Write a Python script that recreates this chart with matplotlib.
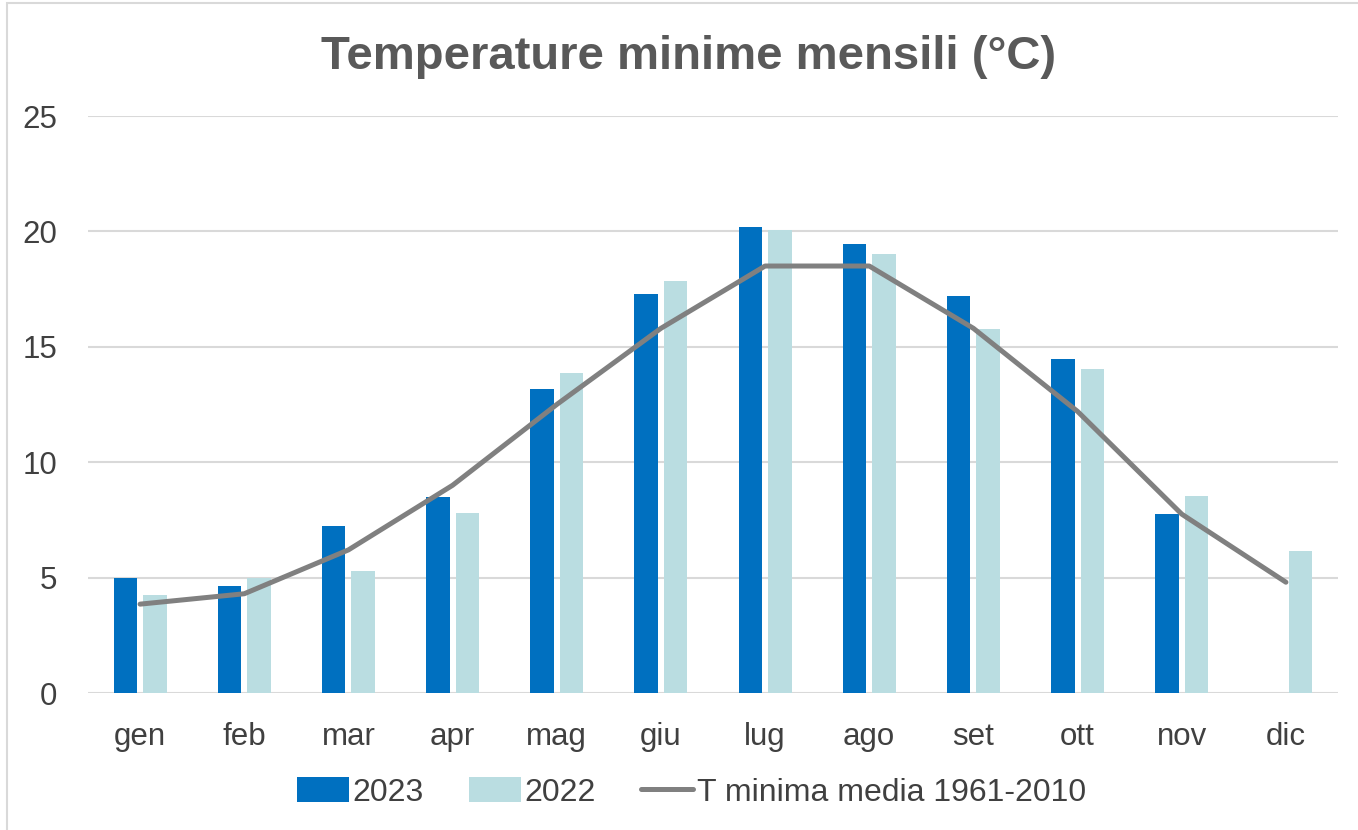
import numpy as np
import matplotlib.pyplot as plt
from matplotlib.patches import Rectangle

plt.rcParams['font.family'] = ['Liberation Sans', 'DejaVu Sans']

# ── Data ──────────────────────────────────────────────────────────────────────
months    = ["gen", "feb", "mar", "apr", "mag", "giu",
             "lug", "ago", "set", "ott", "nov", "dic"]
t_2023    = [5.0, 4.65, 7.25, 8.5, 13.15, 17.3, 20.2, 19.45, 17.2, 14.45, 7.75, np.nan]
t_2022    = [4.25, 5.0, 5.3, 7.8, 13.85, 17.85, 20.05, 19.0, 15.75, 14.05, 8.55, 6.15]
t_clima   = [3.85, 4.3, 6.2, 9.0, 12.5, 15.8, 18.5, 18.5, 15.8, 12.2, 7.75, 4.8]
y_ticks   = [0, 5, 10, 15, 20, 25]

C_2023  = "#0070C0"
C_2022  = "#BADDE1"
C_LINE  = "#808080"
C_TEXT  = "#404040"
C_GRID  = "#D9D9D9"

fig = plt.figure(figsize=(13.58, 8.30), dpi=100)
ax = fig.add_axes([88 / 1358, 1 - 693 / 830, 1250 / 1358, 577 / 830])

x = np.arange(len(months))
bw, off = 0.226, 0.1415
b1 = ax.bar(x - off, t_2023, width=bw, color=C_2023, label="2023", zorder=2)
b2 = ax.bar(x + off, t_2022, width=bw, color=C_2022, label="2022", zorder=2)
ln, = ax.plot(x, t_clima, color=C_LINE, lw=3.6, solid_capstyle="round",
              solid_joinstyle="round", label="T minima media 1961-2010", zorder=3)

ax.set_xlim(-0.5, 11.5)
ax.set_ylim(0, 25)
ax.set_yticks(y_ticks)
ax.set_xticks(x)
ax.set_xticklabels(months)
ax.tick_params(axis="both", length=0, labelsize=22.5, colors=C_TEXT)
ax.tick_params(axis="x", pad=21)
ax.tick_params(axis="y", pad=22)
ax.grid(axis="y", color=C_GRID, lw=1.5, zorder=0)
for s in ax.spines.values():
    s.set_visible(False)

fig.text(0.507, 0.931, "Temperature minime mensili (°C)", ha="center",
         va="center", fontsize=34, fontweight="bold", color="#595959")

fig.legend(handles=[b1, b2, ln], loc="center", bbox_to_anchor=(0.509, 0.045),
           ncol=3, frameon=False, fontsize=23, handlelength=1.65,
           handleheight=0.8, handletextpad=0.1, columnspacing=1.4,
           labelcolor=C_TEXT)

# outer chart-area border
fig.patches.append(Rectangle((7 / 1358, -0.01), 1.02, 1 - 3 / 830 + 0.01,
                             transform=fig.transFigure, fill=False,
                             edgecolor=C_GRID, lw=1.5))

fig.savefig("out.png", dpi=100)
